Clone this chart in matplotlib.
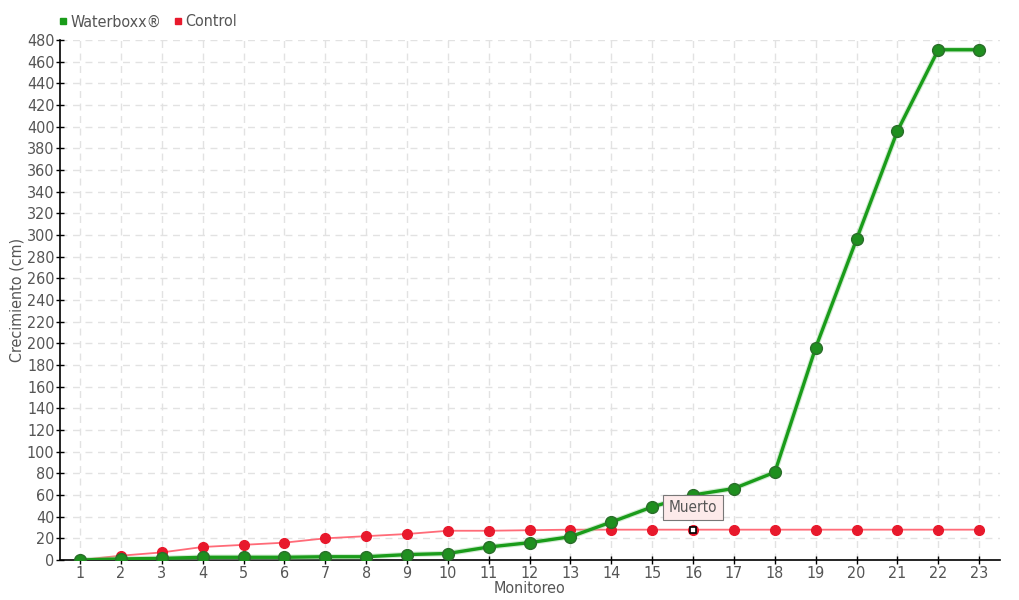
import numpy as np
import matplotlib
matplotlib.use("Agg")
import matplotlib.pyplot as plt
from matplotlib.lines import Line2D

plt.rcParams['font.family'] = ['DejaVu Sans']
plt.rcParams['font.stretch'] = 'condensed'

monitoreo = list(range(1, 24))
waterboxx = [0, 1, 1.5, 2.5, 2.5, 2.5, 3, 3, 5, 6, 12, 16, 21.5, 35, 49, 60, 66, 81,
             196, 296, 396, 471, 471]
control = [0, 4, 7, 12, 14, 16, 20, 22, 24, 27, 27, 27.5, 28, 28, 28, 28, 28, 28,
           28, 28, 28, 28, 28]
muerto_idx = 15

txt = '#555555'
fig = plt.figure(figsize=(10.2, 6.0), dpi=100)
ax = fig.add_axes([60/1020, 40/600, 940/1020, 520/600])

ax.plot(monitoreo, control, color='#ff6b78', lw=1.3, zorder=3)
ax.plot(monitoreo, control, 'o', ms=7, color='#e8192c', mec='#e8192c', zorder=4)
ax.plot(monitoreo, waterboxx, color='#8fd08f', lw=4, alpha=0.4, zorder=4)
ax.plot(monitoreo, waterboxx, color='#1a9c1a', lw=2.4, zorder=5)
ax.plot(monitoreo, waterboxx, 'o', ms=8.5, color='#1f8f1f', mec='#2a6e2a', mew=1,
        zorder=6)

ax.plot(monitoreo[muerto_idx], control[muerto_idx], 's', ms=4.5, mfc='white',
        mec='black', mew=1.2, zorder=7)
ax.annotate('Muerto', (monitoreo[muerto_idx], control[muerto_idx]),
            xytext=(0, 16), textcoords='offset points', ha='center', va='center',
            fontsize=11, color=txt,
            bbox=dict(boxstyle='square,pad=0.35', fc='#fdeaea', ec='#777777', lw=0.8),
            zorder=8)

ax.set_xlim(0.51, 23.51)
ax.set_ylim(0, 480)
ax.set_xticks(monitoreo)
ax.set_yticks(np.arange(0, 481, 20))
ax.grid(True, color='#e2e2e2', ls=(0, (5, 4)), lw=1)
ax.set_axisbelow(True)
for s in ['top', 'right']:
    ax.spines[s].set_visible(False)
for s in ['left', 'bottom']:
    ax.spines[s].set_color('black')
    ax.spines[s].set_linewidth(1.2)
ax.tick_params(axis='both', colors='black', labelcolor=txt, labelsize=11.5,
               direction='inout', length=6, width=1, pad=1)

ax.set_xlabel('Monitoreo', color=txt, fontsize=11.5, labelpad=0)
ax.set_ylabel('Crecimiento (cm)', color=txt, fontsize=11.5, labelpad=2)

handles = [Line2D([], [], marker='s', ls='', color='#1a9c1a', ms=5),
           Line2D([], [], marker='s', ls='', color='#e8192c', ms=5)]
fig.legend(handles, ['Waterboxx®', 'Control'], loc='center left',
           bbox_to_anchor=(42/1020, 1 - 22/600), ncol=2, frameon=False,
           fontsize=11.5, handletextpad=0.1, columnspacing=0.6, handlelength=0.8,
           labelcolor=txt)

fig.savefig('out.png', dpi=100)
